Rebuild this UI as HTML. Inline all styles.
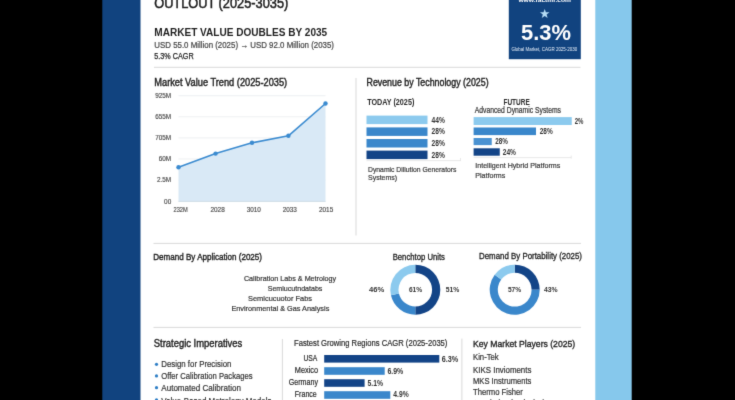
<!DOCTYPE html>
<html><head><meta charset="utf-8"><title>Market Outlook Infographic</title>
<style>html,body{margin:0;padding:0;background:#000;overflow:hidden}svg{display:block}text{font-family:"Liberation Sans",Arial,sans-serif}</style>
</head><body>
<svg width="735" height="400" viewBox="0 0 735 400">
<defs><filter id="soft" filterUnits="userSpaceOnUse" x="0" y="0" width="735" height="400" color-interpolation-filters="sRGB"><feConvolveMatrix order="3" kernelMatrix="0.0113 0.0838 0.0113 0.0838 0.6193 0.0838 0.0113 0.0838 0.0113" divisor="1" edgeMode="duplicate"/></filter></defs>
<g filter="url(#soft)">
<rect x="0.00" y="0.00" width="735.00" height="400.00" fill="#000" />
<rect x="120.00" y="0.00" width="500.00" height="400.00" fill="#fff" />
<rect x="102.30" y="0.00" width="38.20" height="400.00" fill="#11437f" />
<rect x="595.30" y="0.00" width="36.40" height="400.00" fill="#86c8ec" />
<text x="154.20" y="7.70" font-size="14" font-weight="400" fill="#1c1c1c" text-anchor="start" textLength="134.10" lengthAdjust="spacingAndGlyphs" stroke="#1c1c1c" stroke-width="0.5">OUTLOUT (2025-3035)</text>
<text x="154.30" y="36.10" font-size="11.8" font-weight="700" fill="#1e1e1e" text-anchor="start" textLength="172.90" lengthAdjust="spacingAndGlyphs" >MARKET VALUE DOUBLES BY 2035</text>
<text x="154.30" y="47.60" font-size="8.3" font-weight="400" fill="#444" text-anchor="start" textLength="179.70" lengthAdjust="spacingAndGlyphs" stroke="#444" stroke-width="0.2">USD 55.0 Million (2025) → USD 92.0 Million (2035)</text>
<text x="154.30" y="58.90" font-size="8.5" font-weight="400" fill="#222" text-anchor="start" textLength="39.30" lengthAdjust="spacingAndGlyphs" stroke="#222" stroke-width="0.25">5.3% CAGR</text>
<line x1="154.00" y1="67.30" x2="580.50" y2="67.30" stroke="#d9d9d9" stroke-width="1"/>
<rect x="508.80" y="0.00" width="72.00" height="59.20" fill="#11437f" />
<text x="544.70" y="1.90" font-size="5.8" font-weight="700" fill="#fff" text-anchor="middle" textLength="52.50" lengthAdjust="spacingAndGlyphs" >www.factmr.com</text>
<polygon points="544.70,8.90 545.88,12.28 549.46,12.35 546.60,14.52 547.64,17.95 544.70,15.90 541.76,17.95 542.80,14.52 539.94,12.35 543.52,12.28" fill="#b5dcf5"/>
<text x="521.00" y="39.80" font-size="21.4" font-weight="700" fill="#fff" text-anchor="start" textLength="50.00" lengthAdjust="spacingAndGlyphs" >5.3%</text>
<text x="511.40" y="50.50" font-size="4.7" font-weight="400" fill="#e6eef8" text-anchor="start" textLength="65.90" lengthAdjust="spacingAndGlyphs" >Global Market, CAGR 2025-2030</text>
<text x="154.30" y="86.30" font-size="10" font-weight="400" fill="#1e1e1e" text-anchor="start" textLength="132.90" lengthAdjust="spacingAndGlyphs" stroke="#1e1e1e" stroke-width="0.4">Market Value Trend (2025-2035)</text>
<text x="171.20" y="97.90" font-size="6.4" font-weight="400" fill="#4a4a4a" text-anchor="end" stroke="#4a4a4a" stroke-width="0.15">925M</text>
<line x1="178.50" y1="95.70" x2="325.50" y2="95.70" stroke="#e6e9ec" stroke-width="0.7"/>
<text x="171.20" y="119.00" font-size="6.4" font-weight="400" fill="#4a4a4a" text-anchor="end" stroke="#4a4a4a" stroke-width="0.15">655M</text>
<line x1="178.50" y1="116.80" x2="325.50" y2="116.80" stroke="#e6e9ec" stroke-width="0.7"/>
<text x="171.20" y="140.10" font-size="6.4" font-weight="400" fill="#4a4a4a" text-anchor="end" stroke="#4a4a4a" stroke-width="0.15">705M</text>
<line x1="178.50" y1="137.90" x2="325.50" y2="137.90" stroke="#e6e9ec" stroke-width="0.7"/>
<text x="171.20" y="161.20" font-size="6.4" font-weight="400" fill="#4a4a4a" text-anchor="end" stroke="#4a4a4a" stroke-width="0.15">60M</text>
<line x1="178.50" y1="159.00" x2="325.50" y2="159.00" stroke="#e6e9ec" stroke-width="0.7"/>
<text x="171.20" y="182.40" font-size="6.4" font-weight="400" fill="#4a4a4a" text-anchor="end" stroke="#4a4a4a" stroke-width="0.15">2.5M</text>
<line x1="178.50" y1="180.20" x2="325.50" y2="180.20" stroke="#e6e9ec" stroke-width="0.7"/>
<text x="171.20" y="203.50" font-size="6.4" font-weight="400" fill="#4a4a4a" text-anchor="end" stroke="#4a4a4a" stroke-width="0.15">00</text>
<line x1="178.50" y1="201.30" x2="325.50" y2="201.30" stroke="#e6e9ec" stroke-width="0.7"/>
<polygon points="178.5,167.3 215.6,153.6 252.0,142.8 288.4,135.8 325.5,103.5 325.5,201.4 178.5,201.4" fill="#d9e9f6"/>
<polyline points="178.5,167.3 215.6,153.6 252.0,142.8 288.4,135.8 325.5,103.5" fill="none" stroke="#3b8bd0" stroke-width="1.6" stroke-linejoin="round"/>
<circle cx="178.5" cy="167.3" r="2.2" fill="#3b8bd0"/>
<circle cx="215.6" cy="153.6" r="2.2" fill="#3b8bd0"/>
<circle cx="252" cy="142.8" r="2.2" fill="#3b8bd0"/>
<circle cx="288.4" cy="135.8" r="2.2" fill="#3b8bd0"/>
<circle cx="325.5" cy="103.5" r="2.2" fill="#3b8bd0"/>
<line x1="178.50" y1="201.40" x2="325.50" y2="201.40" stroke="#c9d7e3" stroke-width="0.7"/>
<text x="180.60" y="212.20" font-size="6.4" font-weight="400" fill="#4a4a4a" text-anchor="middle" textLength="14.20" lengthAdjust="spacingAndGlyphs" stroke="#4a4a4a" stroke-width="0.15">232M</text>
<text x="217.60" y="212.20" font-size="6.4" font-weight="400" fill="#4a4a4a" text-anchor="middle" textLength="14.20" lengthAdjust="spacingAndGlyphs" stroke="#4a4a4a" stroke-width="0.15">2028</text>
<text x="253.80" y="212.20" font-size="6.4" font-weight="400" fill="#4a4a4a" text-anchor="middle" textLength="14.20" lengthAdjust="spacingAndGlyphs" stroke="#4a4a4a" stroke-width="0.15">3010</text>
<text x="289.80" y="212.20" font-size="6.4" font-weight="400" fill="#4a4a4a" text-anchor="middle" textLength="14.20" lengthAdjust="spacingAndGlyphs" stroke="#4a4a4a" stroke-width="0.15">2033</text>
<text x="326.10" y="212.20" font-size="6.4" font-weight="400" fill="#4a4a4a" text-anchor="middle" textLength="14.20" lengthAdjust="spacingAndGlyphs" stroke="#4a4a4a" stroke-width="0.15">2015</text>
<line x1="356.00" y1="78.00" x2="356.00" y2="235.50" stroke="#d9d9d9" stroke-width="1"/>
<text x="366.50" y="86.40" font-size="10.2" font-weight="400" fill="#1e1e1e" text-anchor="start" textLength="122.10" lengthAdjust="spacingAndGlyphs" stroke="#1e1e1e" stroke-width="0.4">Revenue by Technology (2025)</text>
<text x="367.20" y="105.20" font-size="8.6" font-weight="700" fill="#2a2a2a" text-anchor="start" textLength="47.10" lengthAdjust="spacingAndGlyphs" >TODAY (2025)</text>
<rect x="366.50" y="115.60" width="61.00" height="8.50" fill="#8ccaee" />
<text x="431.50" y="122.60" font-size="8.4" font-weight="700" fill="#333" text-anchor="start" textLength="13.30" lengthAdjust="spacingAndGlyphs" >44%</text>
<rect x="366.50" y="127.40" width="61.00" height="8.50" fill="#3a87cb" />
<text x="431.50" y="134.40" font-size="8.4" font-weight="700" fill="#333" text-anchor="start" textLength="13.30" lengthAdjust="spacingAndGlyphs" >28%</text>
<rect x="366.50" y="139.00" width="61.00" height="8.50" fill="#3a87cb" />
<text x="431.50" y="146.00" font-size="8.4" font-weight="700" fill="#333" text-anchor="start" textLength="13.30" lengthAdjust="spacingAndGlyphs" >28%</text>
<rect x="366.50" y="150.60" width="61.00" height="8.50" fill="#134487" />
<text x="431.50" y="157.60" font-size="8.4" font-weight="700" fill="#333" text-anchor="start" textLength="13.30" lengthAdjust="spacingAndGlyphs" >28%</text>
<line x1="366.50" y1="160.60" x2="460.50" y2="160.60" stroke="#e0e0e0" stroke-width="0.7"/>
<line x1="460.50" y1="158.00" x2="460.50" y2="161.00" stroke="#e0e0e0" stroke-width="0.7"/>
<text x="368.00" y="171.70" font-size="7.8" font-weight="400" fill="#3a3a3a" text-anchor="start" textLength="88.50" lengthAdjust="spacingAndGlyphs" stroke="#333" stroke-width="0.2">Dynamic Dillution Generators</text>
<text x="368.00" y="180.40" font-size="7.8" font-weight="400" fill="#3a3a3a" text-anchor="start" textLength="29.20" lengthAdjust="spacingAndGlyphs" stroke="#333" stroke-width="0.2">Systems)</text>
<text x="516.60" y="104.90" font-size="8.6" font-weight="700" fill="#2a2a2a" text-anchor="middle" textLength="26.30" lengthAdjust="spacingAndGlyphs" >FUTURE</text>
<text x="474.75" y="113.40" font-size="8.2" font-weight="400" fill="#333" text-anchor="start" textLength="86.25" lengthAdjust="spacingAndGlyphs" stroke="#333" stroke-width="0.2">Advanced Dynamic Systems</text>
<rect x="473.60" y="117.10" width="98.15" height="7.90" fill="#8ccaee" />
<text x="574.75" y="123.75" font-size="8.4" font-weight="700" fill="#333" text-anchor="start" textLength="8.75" lengthAdjust="spacingAndGlyphs" >2%</text>
<rect x="473.60" y="127.50" width="62.40" height="7.60" fill="#3a87cb" />
<text x="539.75" y="134.30" font-size="8.4" font-weight="700" fill="#333" text-anchor="start" textLength="13.00" lengthAdjust="spacingAndGlyphs" >28%</text>
<rect x="473.60" y="138.00" width="18.15" height="7.10" fill="#4a92d2" />
<text x="495.25" y="144.30" font-size="8.4" font-weight="700" fill="#333" text-anchor="start" textLength="12.60" lengthAdjust="spacingAndGlyphs" >28%</text>
<rect x="473.60" y="148.30" width="26.15" height="7.40" fill="#134487" />
<text x="502.75" y="154.50" font-size="8.4" font-weight="700" fill="#333" text-anchor="start" textLength="13.25" lengthAdjust="spacingAndGlyphs" >24%</text>
<line x1="473.60" y1="157.60" x2="571.20" y2="157.60" stroke="#e0e0e0" stroke-width="0.7"/>
<line x1="571.20" y1="155.50" x2="571.20" y2="158.60" stroke="#e0e0e0" stroke-width="0.7"/>
<text x="475.25" y="168.30" font-size="7.8" font-weight="400" fill="#3a3a3a" text-anchor="start" textLength="85.00" lengthAdjust="spacingAndGlyphs" stroke="#333" stroke-width="0.2">Intelligent Hybrid Platforms</text>
<text x="475.25" y="177.50" font-size="7.8" font-weight="400" fill="#3a3a3a" text-anchor="start" textLength="30.00" lengthAdjust="spacingAndGlyphs" stroke="#333" stroke-width="0.2">Platforms</text>
<line x1="153.50" y1="243.40" x2="581.00" y2="243.40" stroke="#d9d9d9" stroke-width="1"/>
<line x1="153.50" y1="327.40" x2="581.00" y2="327.40" stroke="#d9d9d9" stroke-width="1"/>
<text x="153.30" y="259.90" font-size="9.8" font-weight="400" fill="#1e1e1e" text-anchor="start" textLength="108.70" lengthAdjust="spacingAndGlyphs" stroke="#1e1e1e" stroke-width="0.4">Demand By Application (2025)</text>
<text x="243.90" y="280.60" font-size="8" font-weight="400" fill="#333" text-anchor="start" textLength="92.30" lengthAdjust="spacingAndGlyphs" stroke="#333" stroke-width="0.2">Calibration Labs &amp; Metrology</text>
<text x="267.70" y="290.80" font-size="8" font-weight="400" fill="#333" text-anchor="start" textLength="54.70" lengthAdjust="spacingAndGlyphs" stroke="#333" stroke-width="0.2">Semiucutndatabs</text>
<text x="248.00" y="301.10" font-size="8" font-weight="400" fill="#333" text-anchor="start" textLength="64.00" lengthAdjust="spacingAndGlyphs" stroke="#333" stroke-width="0.2">Semicucuotor Fabs</text>
<text x="231.40" y="311.40" font-size="8" font-weight="400" fill="#333" text-anchor="start" textLength="97.90" lengthAdjust="spacingAndGlyphs" stroke="#333" stroke-width="0.2">Environmental &amp; Gas Analysis</text>
<text x="392.70" y="259.50" font-size="8.8" font-weight="400" fill="#222" text-anchor="start" textLength="52.30" lengthAdjust="spacingAndGlyphs" stroke="#222" stroke-width="0.3">Benchtop Units</text>
<path d="M415.30,264.70 A25,25 0 0 1 415.30,314.70 L415.30,306.50 A16.8,16.8 0 0 0 415.30,272.90 Z" fill="#134487"/>
<path d="M415.30,314.70 A25,25 0 0 1 390.94,295.32 L398.93,293.48 A16.8,16.8 0 0 0 415.30,306.50 Z" fill="#3a87cb"/>
<path d="M390.94,295.32 A25,25 0 0 1 415.30,264.70 L415.30,272.90 A16.8,16.8 0 0 0 398.93,293.48 Z" fill="#8ccaee"/>
<text x="369.00" y="291.90" font-size="7.3" font-weight="700" fill="#333" text-anchor="start" textLength="15.30" lengthAdjust="spacingAndGlyphs" >46%</text>
<text x="415.50" y="292.10" font-size="7.3" font-weight="700" fill="#333" text-anchor="middle" textLength="13.20" lengthAdjust="spacingAndGlyphs" >61%</text>
<text x="445.70" y="291.90" font-size="7.3" font-weight="700" fill="#333" text-anchor="start" textLength="13.60" lengthAdjust="spacingAndGlyphs" >51%</text>
<text x="479.00" y="259.40" font-size="8.8" font-weight="400" fill="#222" text-anchor="start" textLength="103.00" lengthAdjust="spacingAndGlyphs" stroke="#222" stroke-width="0.3">Demand By Portability (2025)</text>
<path d="M514.70,264.70 A25,25 0 0 1 539.70,289.70 L531.60,289.70 A16.9,16.9 0 0 0 514.70,272.80 Z" fill="#134487"/>
<path d="M539.70,289.70 A25,25 0 1 1 494.73,274.65 L501.20,279.53 A16.9,16.9 0 1 0 531.60,289.70 Z" fill="#3a87cb"/>
<path d="M494.73,274.65 A25,25 0 0 1 514.70,264.70 L514.70,272.80 A16.9,16.9 0 0 0 501.20,279.53 Z" fill="#8ccaee"/>
<text x="514.50" y="292.10" font-size="7.3" font-weight="700" fill="#333" text-anchor="middle" textLength="13.20" lengthAdjust="spacingAndGlyphs" >57%</text>
<text x="544.00" y="291.90" font-size="7.3" font-weight="700" fill="#333" text-anchor="start" textLength="13.70" lengthAdjust="spacingAndGlyphs" >43%</text>
<text x="153.80" y="347.10" font-size="10.6" font-weight="400" fill="#1e1e1e" text-anchor="start" textLength="88.50" lengthAdjust="spacingAndGlyphs" stroke="#1e1e1e" stroke-width="0.4">Strategic Imperatives</text>
<line x1="282.40" y1="339.00" x2="282.40" y2="400.00" stroke="#d9d9d9" stroke-width="1"/>
<circle cx="156.5" cy="364.3" r="1.6" fill="#2f7fc6"/>
<text x="161.30" y="367.40" font-size="8.9" font-weight="400" fill="#333" text-anchor="start" textLength="70.10" lengthAdjust="spacingAndGlyphs" stroke="#333" stroke-width="0.2">Design for Precision</text>
<circle cx="156.5" cy="375.9" r="1.6" fill="#2f7fc6"/>
<text x="161.30" y="379.20" font-size="8.9" font-weight="400" fill="#333" text-anchor="start" textLength="91.30" lengthAdjust="spacingAndGlyphs" stroke="#333" stroke-width="0.2">Offer Calibration Packages</text>
<circle cx="156.5" cy="387.7" r="1.6" fill="#2f7fc6"/>
<text x="161.30" y="391.40" font-size="8.9" font-weight="400" fill="#333" text-anchor="start" textLength="79.70" lengthAdjust="spacingAndGlyphs" stroke="#333" stroke-width="0.2">Automated Calibration</text>
<circle cx="156.5" cy="399.8" r="1.6" fill="#2f7fc6"/>
<text x="161.30" y="404.00" font-size="8.9" font-weight="400" fill="#333" text-anchor="start" textLength="110.10" lengthAdjust="spacingAndGlyphs" stroke="#333" stroke-width="0.2">Value-Based Metrology Models</text>
<text x="294.00" y="345.60" font-size="9.2" font-weight="400" fill="#222" text-anchor="start" textLength="153.40" lengthAdjust="spacingAndGlyphs" stroke="#333" stroke-width="0.2">Fastest Growing Regions CAGR (2025-2035)</text>
<text x="303.40" y="361.10" font-size="8.5" font-weight="400" fill="#222" text-anchor="start" textLength="13.90" lengthAdjust="spacingAndGlyphs" stroke="#333" stroke-width="0.2">USA</text>
<rect x="324.20" y="355.00" width="115.10" height="7.60" fill="#134487" />
<text x="441.70" y="361.80" font-size="8.3" font-weight="700" fill="#333" text-anchor="start" textLength="16.50" lengthAdjust="spacingAndGlyphs" >6.3%</text>
<text x="294.80" y="373.10" font-size="8.5" font-weight="400" fill="#222" text-anchor="start" textLength="23.20" lengthAdjust="spacingAndGlyphs" stroke="#333" stroke-width="0.2">Mexico</text>
<rect x="324.20" y="367.20" width="60.50" height="7.60" fill="#3a87cb" />
<text x="387.40" y="373.60" font-size="8.3" font-weight="700" fill="#333" text-anchor="start" textLength="15.90" lengthAdjust="spacingAndGlyphs" >6.9%</text>
<text x="288.70" y="385.10" font-size="8.5" font-weight="400" fill="#222" text-anchor="start" textLength="29.30" lengthAdjust="spacingAndGlyphs" stroke="#333" stroke-width="0.2">Germany</text>
<rect x="324.20" y="379.20" width="40.40" height="7.60" fill="#134487" />
<text x="367.50" y="385.60" font-size="8.3" font-weight="700" fill="#333" text-anchor="start" textLength="15.50" lengthAdjust="spacingAndGlyphs" >5.1%</text>
<text x="294.80" y="397.40" font-size="8.5" font-weight="400" fill="#222" text-anchor="start" textLength="22.00" lengthAdjust="spacingAndGlyphs" stroke="#333" stroke-width="0.2">France</text>
<rect x="324.20" y="391.20" width="66.10" height="7.60" fill="#3a87cb" />
<text x="393.30" y="397.40" font-size="8.3" font-weight="700" fill="#333" text-anchor="start" textLength="15.40" lengthAdjust="spacingAndGlyphs" >4.9%</text>
<line x1="461.90" y1="338.60" x2="461.90" y2="400.00" stroke="#d9d9d9" stroke-width="1"/>
<text x="473.00" y="346.50" font-size="9.7" font-weight="400" fill="#1e1e1e" text-anchor="start" textLength="102.20" lengthAdjust="spacingAndGlyphs" stroke="#1e1e1e" stroke-width="0.35">Key Market Players (2025)</text>
<text x="473.00" y="360.30" font-size="8.6" font-weight="400" fill="#333" text-anchor="start" textLength="25.70" lengthAdjust="spacingAndGlyphs" stroke="#333" stroke-width="0.2">Kin-Tek</text>
<text x="473.00" y="372.50" font-size="8.6" font-weight="400" fill="#333" text-anchor="start" textLength="58.40" lengthAdjust="spacingAndGlyphs" stroke="#333" stroke-width="0.2">KIKS Invioments</text>
<text x="473.00" y="383.50" font-size="8.6" font-weight="400" fill="#333" text-anchor="start" textLength="58.40" lengthAdjust="spacingAndGlyphs" stroke="#333" stroke-width="0.2">MKS Instruments</text>
<text x="473.00" y="394.60" font-size="8.6" font-weight="400" fill="#333" text-anchor="start" textLength="49.90" lengthAdjust="spacingAndGlyphs" stroke="#333" stroke-width="0.2">Thermo Fisher</text>
<text x="473.00" y="405.60" font-size="8.6" font-weight="400" fill="#333" text-anchor="start" textLength="72.00" lengthAdjust="spacingAndGlyphs" stroke="#333" stroke-width="0.2">Axetris (Technologies)</text>
</g>
</svg>
</body></html>
